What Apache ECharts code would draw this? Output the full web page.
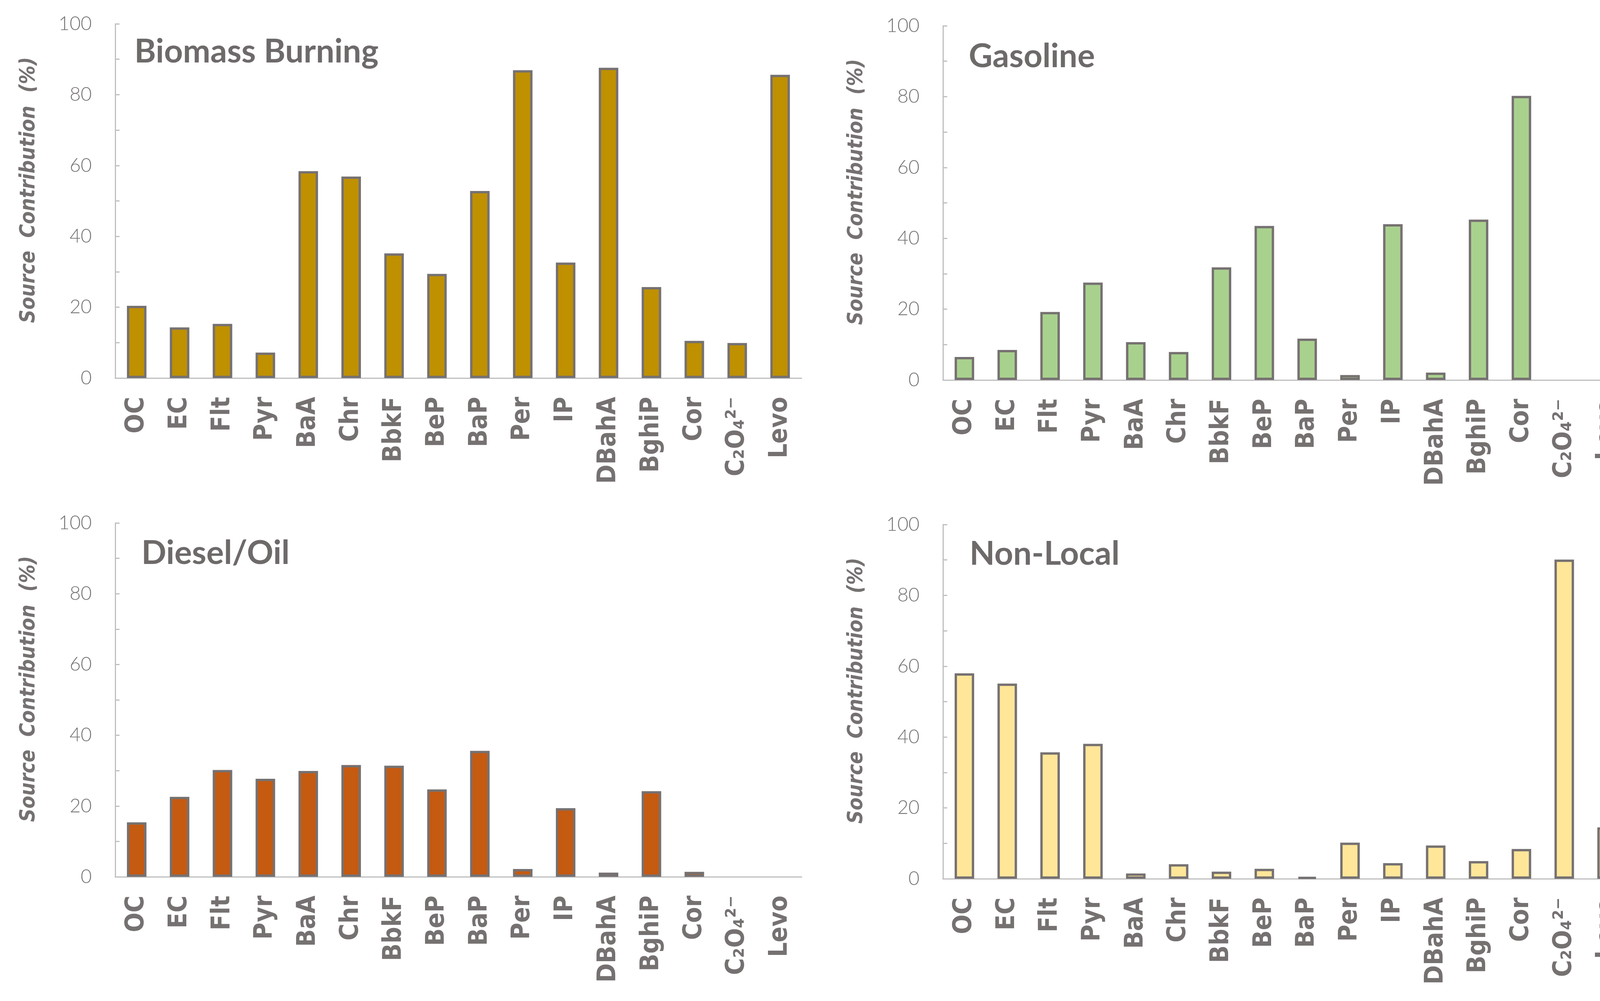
<!DOCTYPE html>
<html>
<head>
<meta charset="utf-8">
<script src="https://cdn.jsdelivr.net/npm/echarts@6/dist/echarts.min.js"></script>
<style>
html,body{margin:0;padding:0;background:#fff;}
#chart{width:4205px;height:2563px;}
</style>
</head>
<body>
<div id="chart"></div>
<script>
const categories = ['OC','EC','Flt','Pyr','BaA','Chr','BbkF','BeP','BaP','Per','IP','DBahA','BghiP','Cor','C\u2082O\u2084\u00B2\u207B','Levo'];
const yTicks = [0, 20, 40, 60, 80, 100];

const biomassBurning = [20.4, 14.3, 15.3, 7.2, 58.4, 56.9, 35.2, 29.4, 52.8, 86.9, 32.6, 87.6, 25.7, 10.5, 9.9, 85.6];
const gasoline       = [6.5, 8.5, 19.2, 27.5, 10.7, 7.9, 31.8, 43.5, 11.7, 1.4, 44.0, 2.1, 45.3, 80.2, 0, 0];
const dieselOil      = [15.4, 22.6, 30.2, 27.7, 29.9, 31.6, 31.4, 24.7, 35.6, 2.2, 19.4, 1.2, 24.2, 1.4, 0, 0];
const nonLocal       = [58.0, 55.1, 35.7, 38.1, 1.5, 4.1, 2.0, 2.8, 0.5, 10.2, 4.4, 9.4, 5.0, 8.4, 90.1, 14.5];

const panelTitles = ['Biomass Burning', 'Gasoline', 'Diesel/Oil', 'Non-Local'];
const panelValues = [biomassBurning, gasoline, dieselOil, nonLocal];
const panelColors = ['#BF9000', '#A9D18E', '#C55A11', '#FFE699'];

const grids = [
  {left: 295, top: 61, width: 1757, height: 907},
  {left: 2414, top: 66, width: 1755, height: 907},
  {left: 295, top: 1339, width: 1757, height: 906},
  {left: 2414, top: 1343, width: 1755, height: 907}
].map(g => Object.assign({containLabel: false, outerBoundsMode: 'none'}, g));
const titlePos = [[344, 133], [2480, 145], [362, 1417], [2482, 1419]];

const gray = '#767171';
const axisGray = '#BFBFBF';

const xAxes = grids.map((g, i) => ({
  type: 'category', gridIndex: i, data: categories,
  axisLine: {show: true, lineStyle: {color: axisGray, width: 3}},
  axisTick: {show: false},
  axisLabel: {rotate: 90, interval: 0, margin: 48, color: gray,
    fontFamily: 'DejaVu Sans Condensed', fontWeight: 'bold', fontSize: 66}
}));
const yAxes = grids.map((g, i) => ({
  type: 'value', gridIndex: i, min: 0, max: 100, interval: 10,
  name: 'Source  Contribution  (%)', nameLocation: 'middle', nameGap: 194,
  nameTextStyle: {color: gray, fontFamily: 'DejaVu Sans Condensed', fontWeight: 'bold', fontStyle: 'italic', fontSize: 53, padding: [0, 0, 0, 56]},
  axisLine: {show: true, lineStyle: {color: axisGray, width: 3}},
  axisTick: {show: true, inside: true, length: 11, lineStyle: {color: axisGray, width: 3}},
  splitLine: {show: false},
  axisLabel: {margin: 60, color: gray, fontFamily: 'Lato', fontWeight: 300, fontSize: 49,
    formatter: v => (yTicks.indexOf(v) >= 0 ? String(v) : '')}
}));
const series = panelValues.map((vals, i) => ({
  type: 'bar', xAxisIndex: i, yAxisIndex: i,
  data: vals.map(v => (v === 0 ? '-' : v)),
  barWidth: 50,
  itemStyle: {color: panelColors[i], borderColor: gray, borderWidth: 6},
  silent: true, animation: false
}));
const graphics = panelTitles.map((t, i) => ({
  type: 'text', x: titlePos[i][0], y: titlePos[i][1],
  style: {text: t, fill: '#6E6A6A', font: 'bold 84px Lato', verticalAlign: 'middle', align: 'left'}
}));

const chart = echarts.init(document.getElementById('chart'), null, {renderer: 'canvas', width: 4205, height: 2563});
chart.setOption({
  backgroundColor: '#ffffff',
  animation: false,
  grid: grids,
  xAxis: xAxes,
  yAxis: yAxes,
  series: series,
  graphic: graphics
});
</script>
</body>
</html>
